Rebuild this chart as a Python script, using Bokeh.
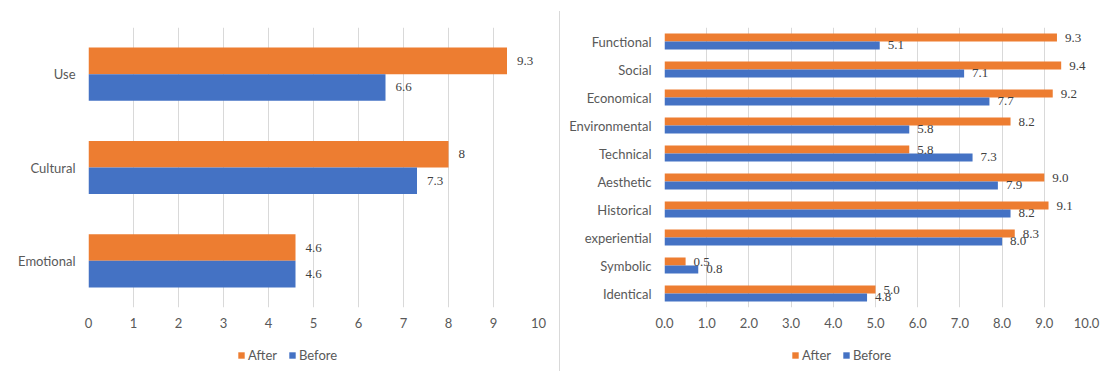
from bokeh.plotting import figure
from bokeh.models import (ColumnDataSource, FactorRange, Range1d, Legend, LegendItem,
                          FixedTicker, NumeralTickFormatter)
from bokeh.transform import dodge
from bokeh.layouts import row, column
from bokeh.embed import file_html
from bokeh.resources import INLINE

# ---------------- data ----------------
left_categories = ["Use", "Cultural", "Emotional"]
left_after = [9.3, 8.0, 4.6]
left_before = [6.6, 7.3, 4.6]
left_after_labels = ["9.3", "8", "4.6"]
left_before_labels = ["6.6", "7.3", "4.6"]

right_categories = ["Functional", "Social", "Economical", "Environmental", "Technical",
                    "Aesthetic", "Historical", "experiential", "Symbolic", "Identical"]
right_after = [9.3, 9.4, 9.2, 8.2, 5.8, 9.0, 9.1, 8.3, 0.5, 5.0]
right_before = [5.1, 7.1, 7.7, 5.8, 7.3, 7.9, 8.2, 8.0, 0.8, 4.8]

x_ticks = [0, 1, 2, 3, 4, 5, 6, 7, 8, 9, 10]
series_names = ["After", "Before"]

ORANGE = "#ED7D31"
BLUE = "#4472C4"
GRID = "#D9D9D9"
AXIS_TEXT = "#595959"
LABEL_TEXT = "#404040"
FONT = "Lato"
FS = "13px"

MAIN_H = 340
LEG_H = 31


def sep_style(top):
    return {"background": f"linear-gradient({GRID}, {GRID}) 0px {top}px / 1px 100% no-repeat white"}


def make_chart(cats, after, before, after_lbl, before_lbl, width, border_left,
               border_right, tick_fmt, legend_x, label_offset, separator=False):
    src = ColumnDataSource(dict(cat=cats, after=after, before=before,
                                after_lbl=after_lbl, before_lbl=before_lbl))
    kw = {"styles": sep_style(11)} if separator else {}
    p = figure(width=width, height=MAIN_H, output_backend="svg", toolbar_location=None,
               y_range=FactorRange(factors=list(reversed(cats))),
               x_range=Range1d(0, 10),
               min_border_left=border_left, min_border_right=border_right,
               min_border_top=27, min_border_bottom=MAIN_H - 307, **kw)
    p.outline_line_color = None
    p.background_fill_color = "white"
    p.border_fill_color = None if separator else "white"

    bar_h = 0.285
    p.hbar(y=dodge("cat", bar_h / 2, range=p.y_range), right="after", left=0,
           height=bar_h, color=ORANGE, line_color=None, source=src)
    p.hbar(y=dodge("cat", -bar_h / 2, range=p.y_range), right="before", left=0,
           height=bar_h, color=BLUE, line_color=None, source=src)

    for col, lbl, off in (("after", "after_lbl", bar_h / 2), ("before", "before_lbl", -bar_h / 2)):
        p.text(x=col, y=dodge("cat", off, range=p.y_range), text=lbl, source=src,
               x_offset=label_offset, text_align="left", text_baseline="middle",
               text_font_size=FS, text_color=LABEL_TEXT, text_font=FONT)

    p.xaxis.ticker = FixedTicker(ticks=x_ticks)
    if tick_fmt:
        p.xaxis.formatter = NumeralTickFormatter(format=tick_fmt)
    for ax in (p.xaxis[0], p.yaxis[0]):
        ax.axis_line_color = None
        ax.major_tick_line_color = None
        ax.minor_tick_line_color = None
        ax.major_tick_out = 0
        ax.major_tick_in = 0
        ax.minor_tick_out = 0
        ax.major_label_text_font = FONT
        ax.major_label_text_font_size = FS
        ax.major_label_text_color = AXIS_TEXT
    p.xaxis.major_label_standoff = 10
    p.yaxis.major_label_standoff = 13

    p.xgrid.grid_line_color = GRID
    p.xgrid.grid_line_width = 1
    p.ygrid.grid_line_color = None

    # legend strip below the chart (its frame is aligned with the chart frame)
    kw2 = {"styles": sep_style(0)} if separator else {}
    lg = figure(width=width, height=LEG_H, output_backend="svg", toolbar_location=None,
                x_range=Range1d(0, 10), y_range=Range1d(0, 1),
                x_axis_location=None, y_axis_location=None,
                min_border_left=border_left, min_border_right=border_right,
                min_border_top=0, min_border_bottom=0, **kw2)
    lg.outline_line_color = None
    lg.xgrid.grid_line_color = None
    lg.ygrid.grid_line_color = None
    lg.background_fill_color = None if separator else "white"
    lg.border_fill_color = None if separator else "white"
    # hidden proxies that carry the series styles for the legend swatches
    la = lg.hbar(y="after", right="after", left=0, height=0, color=ORANGE,
                 line_color=None, source=src, visible=False)
    lb = lg.hbar(y="before", right="before", left=0, height=0, color=BLUE,
                 line_color=None, source=src, visible=False)
    legend = Legend(items=[LegendItem(label=series_names[0], renderers=[la]),
                           LegendItem(label=series_names[1], renderers=[lb])],
                    orientation="horizontal", location=(legend_x - border_left, 8),
                    glyph_width=8, glyph_height=8, label_standoff=3, spacing=11,
                    padding=0, margin=0, border_line_color=None,
                    background_fill_alpha=0, inactive_fill_alpha=0,
                    click_policy="none",
                    label_text_font=FONT, label_text_font_size=FS,
                    label_text_color=AXIS_TEXT, label_height=14)
    lg.add_layout(legend, "center")
    return column(p, lg, spacing=0)


left = make_chart(left_categories, left_after, left_before, left_after_labels,
                  left_before_labels, 559, 88, 21, None, 237, 10)

right_after_labels = [f"{v:.1f}" for v in right_after]
right_before_labels = [f"{v:.1f}" for v in right_before]
right = make_chart(right_categories, right_after, right_before, right_after_labels,
                   right_before_labels, 543, 105, 16, "0.0", 232, 8, separator=True)

layout = row(left, right, spacing=0)

open("out.html", "w").write(file_html(layout, INLINE))
